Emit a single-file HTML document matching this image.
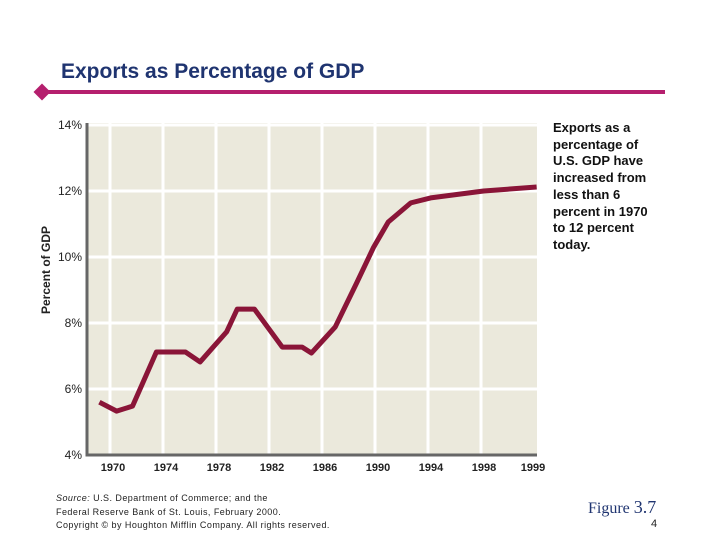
<!DOCTYPE html>
<html><head><meta charset="utf-8"><style>
body{margin:0;background:#fff;width:720px;height:540px;overflow:hidden;position:relative;font-family:"Liberation Sans",sans-serif}
.t{position:absolute;white-space:nowrap}
</style></head><body>
<div class="t" style="left:61px;top:60px;font-size:21px;font-weight:bold;color:#1f3470">Exports as Percentage of GDP</div>
<svg width="720" height="540" style="position:absolute;left:0;top:0" id="svg">
<line x1="42" y1="92" x2="665" y2="92" stroke="#b51f6e" stroke-width="4"/>
<rect x="36" y="86" width="12" height="12" fill="#b51f6e" transform="rotate(45 42 92)"/>
<text x="50" y="270" transform="rotate(-90 50 270)" text-anchor="middle" font-size="12" font-weight="bold" fill="#222" font-family="Liberation Sans">Percent of GDP</text>
<g id="g"></g>
</svg>
<div class="t" style="left:553px;top:120px;font-size:13px;font-weight:bold;line-height:16.7px;color:#111">Exports as a<br>percentage of<br>U.S. GDP have<br>increased from<br>less than 6<br>percent in 1970<br>to 12 percent<br>today.</div>
<div class="t" style="left:56px;top:492px;font-size:9px;letter-spacing:0.45px;line-height:13.5px;color:#222"><i>Source:</i> U.S. Department of Commerce; and the<br>Federal Reserve Bank of St. Louis, February 2000.<br>Copyright © by Houghton Mifflin Company. All rights reserved.</div>
<div class="t" style="left:588px;top:497px;font-family:'Liberation Serif',serif;font-size:16px;color:#1f3470">Figure <span style="font-size:18px">3.7</span></div>
<div class="t" style="left:651px;top:518px;font-size:11px;color:#222">4</div>
<script>
const yTicks=[4,6,8,10,12,14];
const xLabels=["1970","1974","1978","1982","1986","1990","1994","1998","1999"];
const years=[1969.2,1970.5,1971.7,1973.5,1975.7,1976.8,1978.8,1979.6,1980.9,1983,1984.5,1985.2,1987,1988.6,1989.9,1991,1992.7,1994.2,1998.2,2002.2];
const values=[5.6,5.33,5.48,7.12,7.12,6.82,7.73,8.42,8.42,7.27,7.27,7.09,7.88,9.2,10.3,11.06,11.64,11.79,12.0,12.12];
const L=87,R=537,T=123,B=455;
const y=v=>B-(v-4)*(B-T)/10.06;
const x=yr=>110+(yr-1970)*13.25;
const g=document.getElementById('g');const NS='http://www.w3.org/2000/svg';
function mk(t,a){const e=document.createElementNS(NS,t);for(const k in a)e.setAttribute(k,a[k]);g.appendChild(e);return e;}
let e=mk('rect',{x:L,y:T,width:R-L,height:B-T,fill:'#ebe9dc'});


yTicks.forEach(v=>{
 if(v>4){const l=mk('line',{x1:L,x2:R,y1:y(v),y2:y(v),stroke:'#fff','stroke-width':3});
 
 }
 const t=mk('text',{x:82,y:y(v)+4,'text-anchor':'end','font-size':12,fill:'#222','font-family':'Liberation Sans'});
 t.textContent=v+'%';
 
 
});
xLabels.forEach((s,i)=>{
 const px=110+i*53;
 if(i<8){const l=mk('line',{x1:px,x2:px,y1:T,y2:B,stroke:'#fff','stroke-width':3});
 
 }
 const t=mk('text',{x:i<8?px+3:533,y:471,'text-anchor':'middle','font-size':11,'font-weight':'bold',fill:'#222','font-family':'Liberation Sans'});
 t.textContent=s;
 
 
});
const ax=mk('polyline',{points:`${L},${T} ${L},${B} ${R},${B}`,fill:'none',stroke:'#666','stroke-width':3});


const ln=mk('polyline',{points:years.map((yr,i)=>x(yr)+','+y(values[i])).join(' '),fill:'none',stroke:'#8a1538','stroke-width':5,'stroke-linejoin':'round'});


</script>
</body></html>
